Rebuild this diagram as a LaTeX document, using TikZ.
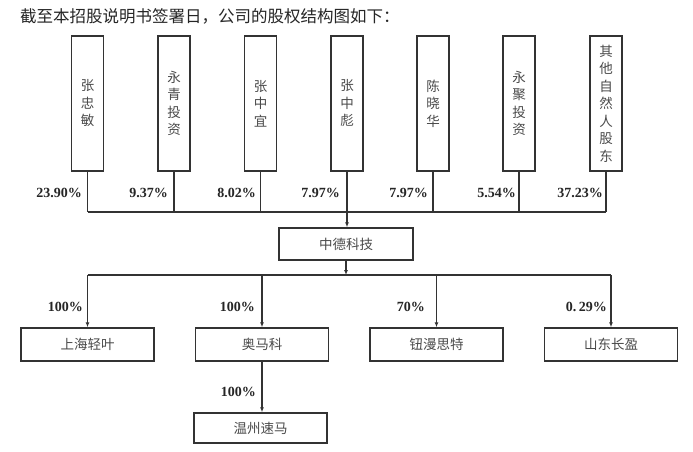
\documentclass[tikz,border=0pt]{standalone}
\usepackage{fontspec}
\newfontfamily\cjk{Noto Sans CJK SC}
\newfontfamily\tnr{Liberation Serif}
\usetikzlibrary{arrows.meta}
\definecolor{linec}{HTML}{333333}
\definecolor{txtc}{HTML}{4A4A4A}
\begin{document}
\begin{tikzpicture}[x=1pt,y=-1pt,
 box/.style={draw=linec, line width=1.5pt, fill=white, inner sep=0pt, align=center, text=txtc, font=\cjk\fontsize{13.5}{17.5}\selectfont},
 topbox/.style={box, minimum width=32pt, minimum height=135pt},
 subbox/.style={box, minimum width=133pt, minimum height=33pt},
 pct/.style={font=\tnr\bfseries\fontsize{14}{16}\selectfont, text=black!85, inner sep=0pt},
 conn/.style={draw=linec, line width=1.3pt},
 arr/.style={conn, -{Latex[length=5pt,width=4pt]}},
 title/.style={font=\cjk\fontsize{16.5}{19}\selectfont, text=black!85, inner sep=0pt, anchor=west}
]
\useasboundingbox[fill=white] (0,0) rectangle (693,451);
\node[title] (t) at (20,16) {截至本招股说明书签署日，公司的股权结构图如下：};

\node[topbox] (s1) at (87.5,103.5) {张\\忠\\敏};
\node[topbox] (s2) at (174,103.5) {永\\青\\投\\资};
\node[topbox] (s3) at (260.5,103.5) {张\\中\\宜};
\node[topbox] (s4) at (347,103.5) {张\\中\\彪};
\node[topbox] (s5) at (433,103.5) {陈\\晓\\华};
\node[topbox] (s6) at (519,103.5) {永\\聚\\投\\资};
\node[topbox] (s7) at (606,103.5) {其\\他\\自\\然\\人\\股\\东};

\node[pct, anchor=east] (p1) at (82,193) {23.90\%};
\node[pct, anchor=east] (p2) at (168,193) {9.37\%};
\node[pct, anchor=east] (p3) at (256,193) {8.02\%};
\node[pct, anchor=east] (p4) at (340,193) {7.97\%};
\node[pct, anchor=east] (p5) at (428,193) {7.97\%};
\node[pct, anchor=east] (p6) at (516,193) {5.54\%};
\node[pct, anchor=east] (p7) at (603,193) {37.23\%};

\node[box, minimum width=134pt, minimum height=32pt] (zd) at (346,244) {中德科技};

\node[subbox] (c1) at (87.5,344.5) {上海轻叶};
\node[subbox] (c2) at (262,344.5) {奥马科};
\node[subbox] (c3) at (436.5,344.5) {钮漫思特};
\node[subbox] (c4) at (611,344.5) {山东长盈};
\node[box, minimum width=133pt, minimum height=30pt] (w) at (260.5,428) {温州速马};

\node[pct, anchor=east] (q1) at (83,307) {100\%};
\node[pct, anchor=east] (q2) at (255,307) {100\%};
\node[pct, anchor=east] (q3) at (425,307) {70\%};
\node[pct, anchor=east] (q4) at (607,307) {0.\,29\%};
\node[pct, anchor=east] (q5) at (256,392) {100\%};

\coordinate (hj) at (347,212);
\foreach \n in {s1,s2,s3,s4,s5,s6,s7} \draw[conn] (\n.south) -- (\n.south |- hj);
\draw[conn] (s1.south |- hj) -- (s7.south |- hj);
\draw[arr] (hj) -- (zd.north -| hj);

\coordinate (hb) at (346,275);
\draw[arr] (zd.south) -- (hb);
\draw[conn] (c1.north |- hb) -- (c4.north |- hb);
\foreach \c in {c1,c2,c3,c4} \draw[arr] (\c.north |- hb) -- (\c.north);
\draw[arr] (c2.south) -- (c2.south |- w.north);
\end{tikzpicture}
\end{document}
